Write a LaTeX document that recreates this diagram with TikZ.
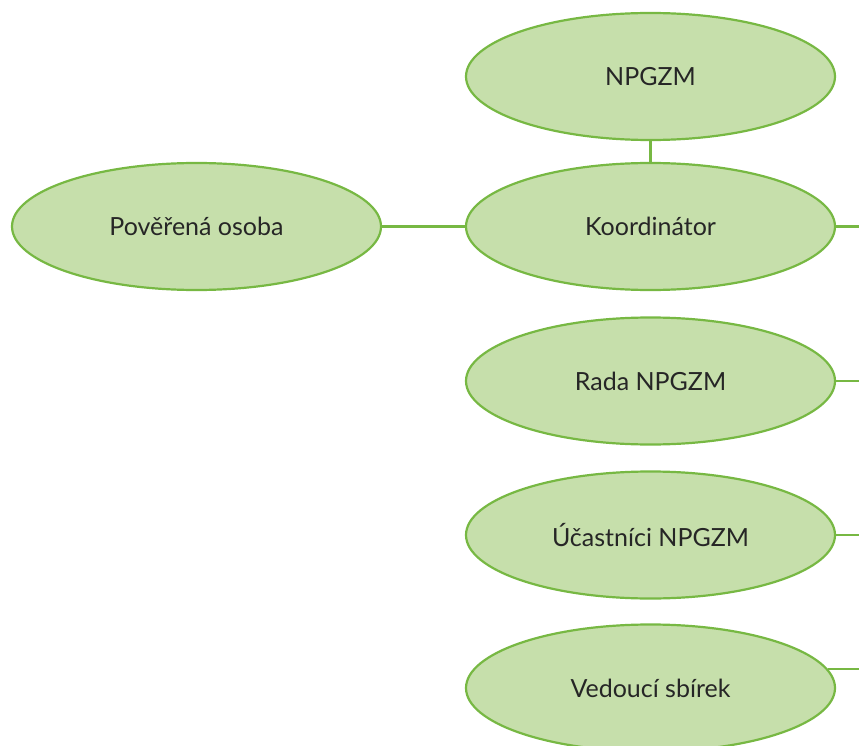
\documentclass[tikz,border=0pt]{standalone}
\usepackage{fontspec}
\setmainfont{Lato}
\usetikzlibrary{shapes.geometric}
\definecolor{leafgreen}{HTML}{C6DFAB}
\definecolor{stemgreen}{HTML}{77B843}
\tikzset{
  orgnode/.style={ellipse, draw=stemgreen, fill=leafgreen, line width=2.2pt,
    minimum width=369pt, minimum height=127pt, inner sep=0pt,
    font=\fontsize{25}{30}\selectfont, text=black!85},
  orgline/.style={draw=stemgreen, line width=2.2pt}
}
\begin{document}
\begin{tikzpicture}[x=1pt, y=-1pt]
\useasboundingbox (0,0) rectangle (859,746);
%
\draw (650.5,76.5) node[orgnode](npgzm){NPGZM};
\draw (650.5,226.5) node[orgnode](koordinator){Koordinátor};
\draw[orgline] (npgzm) -- (koordinator);
%
\draw (196.5,226.5) node[orgnode](poverena){Pověřená osoba};
\draw[orgline] (poverena) -- (koordinator);
%
\draw (650.5,381) node[orgnode](rada){Rada NPGZM};
\draw (650.5,535) node[orgnode](ucastnici){Účastníci NPGZM};
\draw (650.5,688) node[orgnode](vedouci){Vedoucí sbírek};
%
% lines leaving the picture on the right
\coordinate (koordinatorend) at (859,226.5);
\coordinate (radaend) at (859,381);
\coordinate (ucastniciend) at (859,535);
\coordinate (vedouciend) at (vedouci.6 -| 859,0);
\draw[orgline] (koordinator.east) -- (koordinatorend);
\draw[orgline] (rada.east) -- (radaend);
\draw[orgline] (ucastnici.east) -- (ucastniciend);
\draw[orgline] (vedouci.6) -- (vedouciend);
\end{tikzpicture}
\end{document}
